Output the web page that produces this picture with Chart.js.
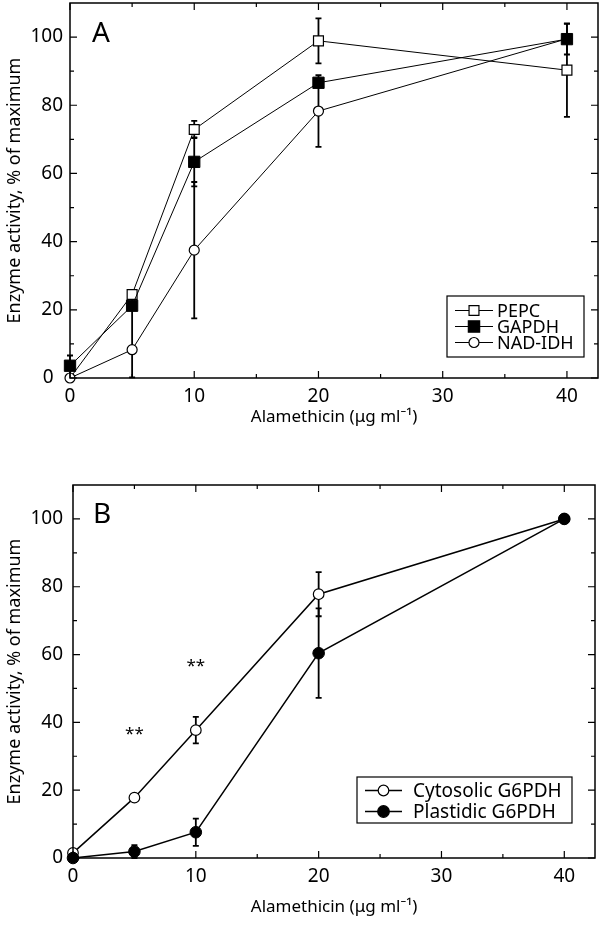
<!DOCTYPE html>
<html>
<head>
<meta charset="utf-8">
<script src="https://cdn.jsdelivr.net/npm/chart.js@4.4.0/dist/chart.umd.min.js"></script>
<style>
  body { margin: 0; background: #fff; }
  .panel { position: absolute; left: 0; width: 600px; }
  #panelA { top: 0; height: 440px; }
  #panelB { top: 450px; height: 475px; }
</style>
</head>
<body>
<div class="panel" id="panelA"><canvas id="chartA"></canvas></div>
<div class="panel" id="panelB"><canvas id="chartB"></canvas></div>
<script>
// Panel A: alamethicin dose vs activity
const alamA = [0, 5, 10, 20, 40];
const pepc = [0, 24.5, 72.9, 98.9, 90.3];
const pepcErrUp = [0, 0, 2.5, 6.6, 13.7];
const pepcErrDn = [0, 0, 2.5, 6.6, 13.7];
const gapdh = [3.6, 21.2, 63.4, 86.6, 99.4];
const gapdhErrUp = [3, 3, 7.2, 0, 4.5];
const gapdhErrDn = [3, 21, 7.2, 0, 4.5];
const nadIdh = [0, 8.3, 37.5, 78.3, 99.5];
const nadIdhErrUp = [0, 0, 20, 10.5, 0];
const nadIdhErrDn = [0, 0, 20, 10.5, 0];

// Panel B
const alamB = [0, 5, 10, 20, 40];
const cyto = [1.5, 17.8, 37.7, 77.8, 100];
const cytoErr = [0, 1, 3.9, 6.5, 0];
const plast = [0, 1.9, 7.6, 60.4, 100];
const plastErr = [0, 1.9, 4, 13.2, 0];
const starX = [5, 10];
const starY = [36.4, 56.6];

const xTicks = [0, 10, 20, 30, 40];
const xMinor = [5, 15, 25, 35];
const yTicks = [0, 20, 40, 60, 80, 100];
const yMinor = [10, 30, 50, 70, 90];
const xTitle = 'Alamethicin (\u03bcg ml\u207b\u00b9)';
const yTitle = 'Enzyme activity, % of maximum';

const FONT = '"Noto Sans", sans-serif';

function pts(xs, ys) {
    return xs.map((x, i) => ({ x: x, y: ys[i] }));
}

// draws frame + inward ticks on all four sides
const framePlugin = {
    id: 'frame',
    afterDraw(chart) {
        const { ctx, chartArea: a, scales } = chart;
        const sx = scales.x, sy = scales.y;
        ctx.save();
        ctx.strokeStyle = '#000';
        ctx.lineWidth = 1.5;
        ctx.strokeRect(a.left, a.top, a.right - a.left, a.bottom - a.top);
        ctx.lineWidth = 1.2;
        const tick = (vals, len) => {
            vals.forEach(v => {
                const px = sx.getPixelForValue(v);
                ctx.beginPath();
                ctx.moveTo(px, a.bottom); ctx.lineTo(px, a.bottom - len);
                ctx.moveTo(px, a.top); ctx.lineTo(px, a.top + len);
                ctx.stroke();
            });
        };
        const tickY = (vals, len) => {
            vals.forEach(v => {
                const py = sy.getPixelForValue(v);
                ctx.beginPath();
                ctx.moveTo(a.left, py); ctx.lineTo(a.left + len, py);
                ctx.moveTo(a.right, py); ctx.lineTo(a.right - len, py);
                ctx.stroke();
            });
        };
        tick(xTicks, 7);
        tick(xMinor, 4);
        tickY(yTicks, 7);
        tickY(yMinor, 4);
        ctx.restore();
    }
};

// error bars drawn under the markers
const errorPlugin = {
    id: 'errbars',
    beforeDatasetsDraw(chart) {
        const { ctx, scales } = chart;
        ctx.save();
        ctx.strokeStyle = '#000';
        ctx.lineWidth = 1.8;
        chart.data.datasets.forEach(ds => {
            if (!ds.errUp) return;
            ds.data.forEach((p, i) => {
                const up = ds.errUp[i], dn = ds.errDn[i];
                if (!up && !dn) return;
                const px = scales.x.getPixelForValue(p.x);
                const yHi = scales.y.getPixelForValue(p.y + up);
                const yLo = scales.y.getPixelForValue(Math.max(p.y - dn, 0));
                ctx.beginPath();
                ctx.moveTo(px, yHi); ctx.lineTo(px, yLo);
                if (up) { ctx.moveTo(px - 3, yHi); ctx.lineTo(px + 3, yHi); }
                if (dn) { ctx.moveTo(px - 3, yLo); ctx.lineTo(px + 3, yLo); }
                ctx.stroke();
            });
        });
        ctx.restore();
    }
};

// boxed legend inside the plot + panel letter + annotations
const extrasPlugin = {
    id: 'extras',
    afterDraw(chart, args, opts) {
        const { ctx, chartArea: a, scales } = chart;
        ctx.save();
        ctx.fillStyle = '#000';
        ctx.font = '28px ' + FONT;
        ctx.textAlign = 'left';
        ctx.textBaseline = 'middle';
        ctx.fillText(opts.letter, a.left + opts.letterDx, scales.y.getPixelForValue(101));

        if (opts.stars) {
            ctx.font = '17px ' + FONT;
            ctx.textAlign = 'center';
            opts.stars.x.forEach((x, i) => {
                ctx.fillText('**', scales.x.getPixelForValue(x), scales.y.getPixelForValue(opts.stars.y[i]));
            });
        }

        const L = opts.legend;
        ctx.fillStyle = '#fff';
        ctx.fillRect(L.x, L.y, L.w, L.h);
        ctx.strokeStyle = '#000';
        ctx.lineWidth = 1.2;
        ctx.strokeRect(L.x, L.y, L.w, L.h);
        ctx.font = L.font + 'px ' + FONT;
        ctx.textAlign = 'left';
        chart.data.datasets.forEach((ds, i) => {
            const yy = L.y + L.first + i * L.step;
            ctx.beginPath();
            ctx.lineWidth = ds.borderWidth;
            ctx.moveTo(L.x + L.lineFrom, yy);
            ctx.lineTo(L.x + L.lineTo, yy);
            ctx.stroke();
            ctx.lineWidth = 1.2;
            ctx.fillStyle = ds.pointBackgroundColor;
            Chart.helpers.drawPoint(ctx, {
                pointStyle: ds.pointStyle,
                radius: L.marks[i],
                borderWidth: 1.2
            }, L.x + (L.lineFrom + L.lineTo) / 2, yy);
            ctx.fillStyle = '#000';
            ctx.fillText(ds.label, L.x + L.textX, yy + 1);
        });
        ctx.restore();
    }
};

function makeChart(id, datasets, geo, extras) {
    return new Chart(document.getElementById(id), {
        type: 'scatter',
        data: { datasets: datasets },
        options: {
            responsive: true,
            maintainAspectRatio: false,
            animation: false,
            layout: { autoPadding: false, padding: { left: 0, right: geo.right, top: geo.top, bottom: 0 } },
            plugins: {
                legend: { display: false },
                tooltip: { enabled: false },
                extras: extras
            },
            scales: {
                x: {
                    type: 'linear',
                    min: 0,
                    max: 42.5,
                    afterBuildTicks: s => { s.ticks = xTicks.map(v => ({ value: v })); },
                    afterFit: s => { s.height = geo.xHeight; s.paddingLeft = 0; s.paddingRight = 0; },
                    grid: { display: false, drawTicks: false },
                    border: { display: false },
                    ticks: { color: '#000', font: { family: FONT, size: 19 }, padding: 7, maxRotation: 0 },
                    title: { display: true, text: xTitle, color: '#000', font: { family: FONT, size: 17 }, padding: { top: 0, bottom: geo.titlePad } }
                },
                y: {
                    min: 0,
                    max: 110,
                    afterBuildTicks: s => { s.ticks = yTicks.map(v => ({ value: v })); },
                    afterFit: s => { s.width = geo.yWidth; s.paddingTop = 0; s.paddingBottom = 0; },
                    grid: { display: false, drawTicks: false },
                    border: { display: false },
                    ticks: {
                        color: '#000', font: { family: FONT, size: 19 }, padding: geo.yPad,
                        callback: v => (v === 0 && geo.shiftZero) ? '0\u2002' : String(v)
                    },
                    title: { display: true, text: yTitle, color: '#000', font: { family: FONT, size: 18 }, padding: { bottom: 2 } }
                }
            }
        },
        plugins: [errorPlugin, framePlugin, extrasPlugin]
    });
}

makeChart('chartA', [
    {
        label: 'PEPC', data: pts(alamA, pepc), errUp: pepcErrUp, errDn: pepcErrDn, order: 2,
        showLine: true, borderColor: '#000', borderWidth: 1, clip: false,
        pointStyle: 'rect', pointRadius: [0, 7, 7, 7, 7], pointBackgroundColor: '#fff', pointBorderColor: '#000', pointBorderWidth: 1.2
    },
    {
        label: 'GAPDH', data: pts(alamA, gapdh), errUp: gapdhErrUp, errDn: gapdhErrDn, order: 0,
        showLine: true, borderColor: '#000', borderWidth: 1, clip: false,
        pointStyle: 'rect', pointRadius: 8, pointBackgroundColor: '#000', pointBorderColor: '#000', pointBorderWidth: 1
    },
    {
        label: 'NAD-IDH', data: pts(alamA, nadIdh), errUp: nadIdhErrUp, errDn: nadIdhErrDn, order: 1,
        showLine: true, borderColor: '#000', borderWidth: 1, clip: false,
        pointStyle: 'circle', pointRadius: 5, pointBackgroundColor: '#fff', pointBorderColor: '#000', pointBorderWidth: 1.2
    }
], { right: 2, top: 3, xHeight: 62, yWidth: 70, titlePad: 13, shiftZero: true, yPad: 7 }, {
    letter: 'A', letterDx: 22,
    legend: { x: 447, y: 296, w: 137, h: 61, font: 18, first: 14.5, step: 16, lineFrom: 8, lineTo: 46, textX: 50, marks: [7, 8, 5] }
});

makeChart('chartB', [
    {
        label: 'Cytosolic G6PDH', data: pts(alamB, cyto), errUp: cytoErr, errDn: cytoErr, order: 1,
        showLine: true, borderColor: '#000', borderWidth: 1.5, clip: false,
        pointStyle: 'circle', pointRadius: 5.3, pointBackgroundColor: '#fff', pointBorderColor: '#000', pointBorderWidth: 1.2
    },
    {
        label: 'Plastidic G6PDH', data: pts(alamB, plast), errUp: plastErr, errDn: plastErr, order: 0,
        showLine: true, borderColor: '#000', borderWidth: 1.5, clip: false,
        pointStyle: 'circle', pointRadius: 5.8, pointBackgroundColor: '#000', pointBorderColor: '#000', pointBorderWidth: 1
    }
], { right: 5, top: 35, xHeight: 67, yWidth: 73, titlePad: 8, shiftZero: false, yPad: 10 }, {
    letter: 'B', letterDx: 20,
    stars: { x: starX, y: starY },
    legend: { x: 357, y: 327, w: 215, h: 46, font: 19, first: 13.5, step: 21, lineFrom: 8, lineTo: 45, textX: 56, marks: [5.3, 5.8] }
});
</script>
</body>
</html>
